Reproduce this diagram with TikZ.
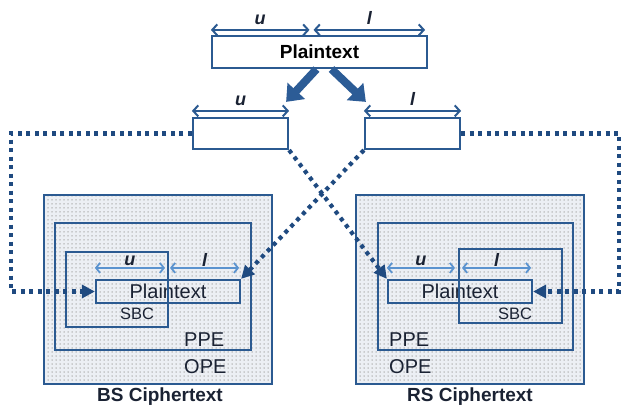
\documentclass[tikz,border=0pt]{standalone}
\usepackage{fontspec}
\setmainfont{Liberation Sans}
\usepackage{xcolor}
\usepackage{tikz}
\usetikzlibrary{arrows.meta, positioning, patterns}
\definecolor{azulBorde}{HTML}{2B5A91}
\definecolor{azulPunto}{HTML}{1F4A80}
\definecolor{azulFlecha}{HTML}{2C5C96}
\definecolor{azulClaro}{HTML}{5B93CF}
\definecolor{fondoCaja}{HTML}{ECEFF4}
\definecolor{textoOscuro}{HTML}{1A2233}
\pgfdeclarepatternformonly{puntitos}{\pgfqpoint{-1pt}{-1pt}}{\pgfqpoint{1pt}{1pt}}{\pgfqpoint{4pt}{4pt}}{%
  \pgfpathcircle{\pgfqpoint{0pt}{0pt}}{0.75pt}\pgfusepath{fill}}

\begin{document}
\begin{tikzpicture}[x=1pt, y=-1pt,
    box/.style={rectangle, draw=azulBorde, line width=2.2pt, inner sep=0pt, align=center},
    ptbox/.style={box, fill=white, font=\fontsize{19}{21}\selectfont\bfseries},
    cajaope/.style={box, line width=2.4pt},
    etiq/.style={inner sep=0pt, text=textoOscuro, font=\fontsize{20}{22}\selectfont},
    varlbl/.style={above=4pt, inner sep=0pt, text=textoOscuro, font=\fontsize{18}{20}\selectfont\bfseries\itshape},
    longitud/.style={{Straight Barb[length=5pt, width=11pt]}-{Straight Barb[length=5pt, width=11pt]}, line width=2pt, azulBorde},
    longint/.style={{Straight Barb[length=4pt, width=10pt]}-{Straight Barb[length=4pt, width=10pt]}, line width=1.8pt, azulClaro},
    flechagorda/.style={-{Triangle[length=15pt, width=23pt]}, line width=8pt, azulFlecha},
    punteada/.style={-{Triangle[length=13pt, width=13pt]}, line width=4.2pt, dash pattern=on 4pt off 4.5pt, azulPunto}
]
    \useasboundingbox (0,0) rectangle (623,412);

    % texto original y sus dos partes
    \node[ptbox, minimum width=215, minimum height=32] (pt) at (319.5,52) {Plaintext};
    \node[box, fill=white, minimum width=95, minimum height=31] (ml) at (240.5,133.5) {};
    \node[box, fill=white, minimum width=95, minimum height=31] (mr) at (412.5,133.5) {};

    \draw[longitud] ([yshift=5]pt.north west) -- node[varlbl] (tu) {u} ([xshift=-10,yshift=5]pt.north);
    \draw[longitud] ([xshift=-6,yshift=5]pt.north) -- node[varlbl] (tl) {l} ([xshift=-3,yshift=5]pt.north east);
    \draw[longitud] ([yshift=6]ml.north west) -- node[varlbl] (mu) {u} ([yshift=6]ml.north east);
    \draw[longitud] ([yshift=6]mr.north west) -- node[varlbl] (ml2) {l} ([yshift=6]mr.north east);

    \draw[flechagorda] ([xshift=-3]pt.south) -- ([xshift=-3,yshift=15]ml.north east);
    \draw[flechagorda] ([xshift=12]pt.south) -- ([xshift=2,yshift=15]mr.north west);

    % BS Ciphertext
    \node[cajaope, minimum width=226, minimum height=187] (bope) at (158,289.5) {};
    \fill[fondoCaja] (bope.north west) rectangle (bope.south east);
    \fill[pattern=puntitos, pattern color=gray!70] (bope.north west) rectangle (bope.south east);
    \draw[azulBorde, line width=2.4pt] (bope.north west) rectangle (bope.south east);
    \node[box, minimum width=196, minimum height=127] (bppe) at (153,286.5) {};
    \node[box, minimum width=144, minimum height=23, text=textoOscuro, font=\fontsize{20}{22}\selectfont] (bpt) at (168,291.5) {Plaintext};
    \node[box, minimum width=102, minimum height=75] (bsbc) at (117,289.5) {};
    \node[etiq, font=\fontsize{16.5}{18}\selectfont] (bsbct) at (137,314) {SBC};
    \node[etiq, anchor=west] (bppet) at (184,340) {PPE};
    \node[etiq, anchor=west] (bopet) at (184,367) {OPE};
    \node[etiq, font=\fontsize{19}{21}\selectfont\bfseries] (bcap) at (160,397) {BS Ciphertext};
    \draw[longint] ([yshift=11]bpt.north west) -- node[varlbl, above=1pt] (bu) {u} ([xshift=-3,yshift=11]bpt.north);
    \draw[longint] ([xshift=2,yshift=11]bpt.north) -- node[varlbl, above=1pt] (bl) {l} ([xshift=-2,yshift=11]bpt.north east);

    % RS Ciphertext
    \node[cajaope, minimum width=226, minimum height=187] (rope) at (470,289.5) {};
    \fill[fondoCaja] (rope.north west) rectangle (rope.south east);
    \fill[pattern=puntitos, pattern color=gray!70] (rope.north west) rectangle (rope.south east);
    \draw[azulBorde, line width=2.4pt] (rope.north west) rectangle (rope.south east);
    \node[box, minimum width=195, minimum height=127] (rppe) at (475.5,286.5) {};
    \node[box, minimum width=144, minimum height=23, text=textoOscuro, font=\fontsize{20}{22}\selectfont] (rpt) at (460,291.5) {Plaintext};
    \node[box, minimum width=103, minimum height=74] (rsbc) at (510.5,286) {};
    \node[etiq, font=\fontsize{16.5}{18}\selectfont] (rsbct) at (515,314) {SBC};
    \node[etiq, anchor=west] (rppet) at (389,340) {PPE};
    \node[etiq, anchor=west] (ropet) at (389,367) {OPE};
    \node[etiq, font=\fontsize{19}{21}\selectfont\bfseries] (rcap) at (470,397) {RS Ciphertext};
    \draw[longint] ([yshift=11]rpt.north west) -- node[varlbl, above=1pt] (ru) {u} ([xshift=-5,yshift=11]rpt.north);
    \draw[longint] ([xshift=2,yshift=11]rpt.north) -- node[varlbl, above=1pt] (rl) {l} ([xshift=-2,yshift=11]rpt.north east);

    % conexiones punteadas
    \coordinate (esqi) at (11,133.5);
    \coordinate (esqd) at (619,133.5);
    \draw[punteada] (ml.west) -- (esqi) |- (bpt.west);
    \draw[punteada] (mr.east) -- (esqd) |- (rpt.east);
    \draw[punteada] (ml.south east) -- (rpt.north west);
    \draw[punteada] (mr.south west) -- (bpt.north east);
\end{tikzpicture}
\end{document}
